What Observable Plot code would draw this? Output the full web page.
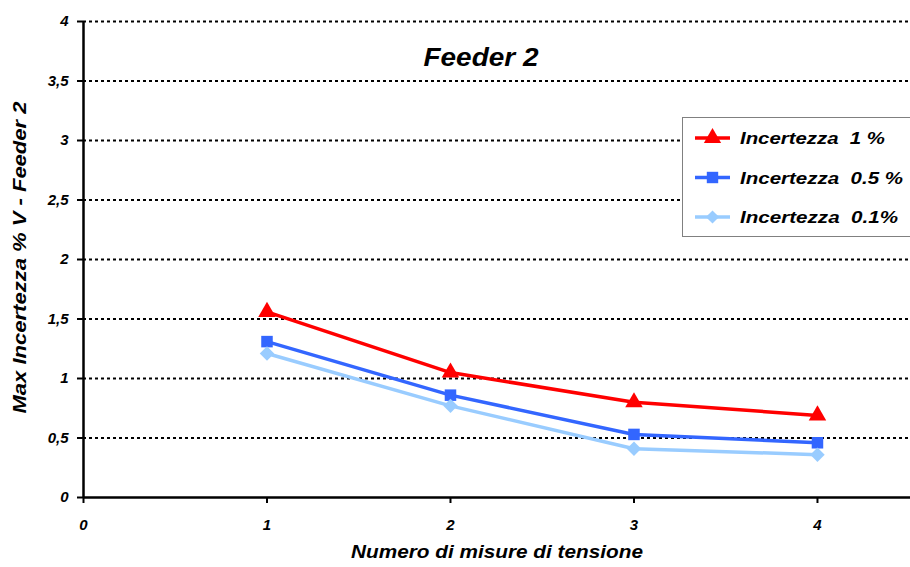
<!DOCTYPE html>
<html>
<head>
<meta charset="utf-8">
<script src="https://cdn.jsdelivr.net/npm/d3@7"></script>
<script src="https://cdn.jsdelivr.net/npm/@observablehq/plot@0.6"></script>
<style>
  html, body { margin: 0; padding: 0; background: #fff; }
  #wrap { position: relative; width: 910px; height: 567px; font-family: Arial, "Liberation Sans", sans-serif; }
  #legend { position: absolute; left: 682px; top: 117px; }
</style>
</head>
<body>
<div id="wrap"></div>
<script>
const title = "Feeder 2";
const xLabel = "Numero di misure di tensione";
const yLabel = "Max Incertezza % V - Feeder 2";
const xTicks = [0, 1, 2, 3, 4];
const yTicks = [0, 0.5, 1, 1.5, 2, 2.5, 3, 3.5, 4];
const measures = [1, 2, 3, 4];
const seriesNames = ["Incertezza  1 %", "Incertezza  0.5 %", "Incertezza  0.1%"];
const seriesColors = ["#ff0000", "#3366ff", "#99ccff"];
const seriesSymbols = ["triangle", "square", "diamond2"];
const inc1 = [1.56, 1.05, 0.80, 0.69];
const inc05 = [1.31, 0.86, 0.53, 0.46];
const inc01 = [1.21, 0.77, 0.41, 0.36];

const allSeries = [inc1, inc05, inc01];
const data = [];
allSeries.forEach((vals, si) => vals.forEach((v, i) => data.push({x: measures[i], y: v, s: seriesNames[si]})));

const font = "Arial, 'Liberation Sans', sans-serif";
const fmt = d => String(d).replace(".", ",");
const lbl = {fontSize: 15, fontWeight: "bold", fontStyle: "italic", fill: "#000"};

const chart = Plot.plot({
  width: 910,
  height: 567,
  marginLeft: 83,
  marginRight: 0,
  marginTop: 21,
  marginBottom: 70,
  style: {fontFamily: font, background: "white", overflow: "visible"},
  x: {domain: [0, 4.507], axis: null},
  y: {domain: [0, 4], axis: null},
  color: {domain: seriesNames, range: seriesColors},
  symbol: {domain: seriesNames, range: seriesSymbols},
  marks: [
    Plot.ruleY(yTicks.filter(d => d > 0), {stroke: "#000", strokeWidth: 2, strokeDasharray: "3,3"}),
    Plot.axisY({ticks: yTicks, tickFormat: () => "", tickSize: 6, stroke: "#000", strokeWidth: 2, label: null}),
    Plot.axisX({ticks: xTicks, tickFormat: () => "", tickSize: 6, stroke: "#000", strokeWidth: 2, label: null}),
    Plot.text(yTicks, {x: 0, y: d => d, text: fmt, textAnchor: "end", dx: -15, ...lbl}),
    Plot.text(xTicks, {x: d => d, y: 0, text: d => String(d), textAnchor: "middle", dy: 28, ...lbl}),
    Plot.ruleX([0], {stroke: "#000", strokeWidth: 2.5}),
    Plot.ruleY([0], {stroke: "#000", strokeWidth: 2.5}),
    Plot.line(data, {x: "x", y: "y", z: "s", stroke: "s", strokeWidth: 3.5}),
    Plot.dot(data, {x: "x", y: "y", fill: "s", symbol: "s", r: 6.5, stroke: null}),
    Plot.text([title], {frameAnchor: "top", textAnchor: "middle", dx: -16, dy: 27, fontSize: 25, fontWeight: "bold", fontStyle: "italic", fill: "#000"}),
    Plot.text([xLabel], {frameAnchor: "bottom", textAnchor: "middle", dy: 60, fontSize: 17.5, fontWeight: "bold", fontStyle: "italic", fill: "#000"}),
    Plot.text([yLabel], {frameAnchor: "left", textAnchor: "middle", dx: -63, dy: -2, rotate: -90, fontSize: 17.5, fontWeight: "bold", fontStyle: "italic", fill: "#000"})
  ]
});
document.getElementById("wrap").appendChild(chart);

// The reference's text is horizontally wider than the font: stretch labels to match
const stretch = {[title]: 115, [xLabel]: 292, [yLabel]: 312};
d3.select(chart).selectAll("text").each(function() {
  const t = this.textContent;
  if (stretch[t]) d3.select(this).attr("textLength", stretch[t]).attr("lengthAdjust", "spacingAndGlyphs");
});

// Legend
const lg = d3.select("#wrap").append("svg").attr("id", "legend")
  .attr("width", 228).attr("height", 120);
lg.append("rect").attr("x", 0.5).attr("y", 0.5).attr("width", 230).attr("height", 119)
  .attr("fill", "white").attr("stroke", "#808080").attr("stroke-width", 1);
const symMap = {triangle: d3.symbolTriangle, square: d3.symbolSquare, diamond2: d3.symbolDiamond2};
const legendTextWidths = [145, 163, 158];
seriesNames.forEach((name, i) => {
  const cy = 21 + i * 39.5;
  const g = lg.append("g");
  g.append("line").attr("x1", 13).attr("x2", 48).attr("y1", cy).attr("y2", cy)
    .attr("stroke", seriesColors[i]).attr("stroke-width", 3.5);
  g.append("path").attr("transform", `translate(30.5,${cy})`)
    .attr("d", d3.symbol(symMap[seriesSymbols[i]], seriesSymbols[i] === "diamond2" ? 110 : 130)())
    .attr("fill", seriesColors[i]);
  g.append("text").attr("x", 58).attr("y", cy).attr("dy", "0.36em")
    .attr("font-family", font).attr("font-size", 17).attr("font-weight", "bold").attr("font-style", "italic")
    .attr("xml:space", "preserve")
    .attr("textLength", legendTextWidths[i]).attr("lengthAdjust", "spacingAndGlyphs")
    .text(name);
});
</script>
</body>
</html>
